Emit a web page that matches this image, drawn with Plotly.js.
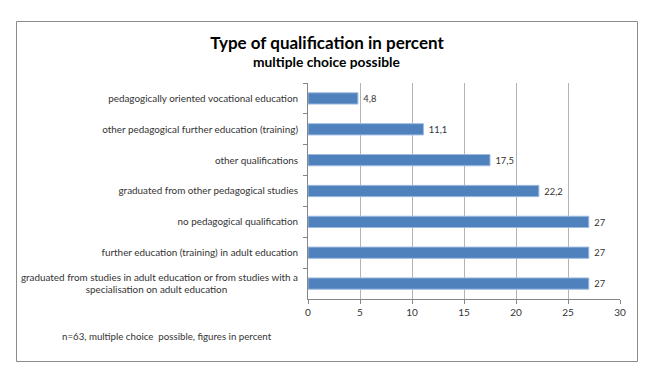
<!DOCTYPE html>
<html>
<head>
<meta charset="utf-8">
<script src="https://cdn.plot.ly/plotly-3.0.1.min.js"></script>
<style>
html,body{margin:0;padding:0;background:#fff;}
#chart{width:658px;height:373px;}
</style>
</head>
<body>
<div id="chart"></div>
<script>
var categories = [
  "pedagogically oriented vocational education",
  "other pedagogical further education (training)",
  "other qualifications",
  "graduated from other pedagogical studies",
  "no pedagogical qualification",
  "further education (training) in adult education",
  "graduated from studies in adult education or from studies with a<br>specialisation on adult education\u00a0\u00a0\u00a0\u00a0\u00a0\u00a0\u00a0\u00a0\u00a0\u00a0\u00a0\u00a0\u00a0\u00a0\u00a0\u00a0\u00a0\u00a0\u00a0\u00a0\u00a0\u00a0\u00a0\u00a0\u00a0\u00a0\u00a0\u00a0"
];
var values = [4.8, 11.1, 17.5, 22.2, 27, 27, 27];
var xTicks = [0, 5, 10, 15, 20, 25, 30];
var titleText = "Type of qualification in percent";
var subtitleText = "multiple choice possible";
var noteText = "n=63, multiple choice  possible, figures in percent";

var labels = values.map(function(v){ return "\u00a0" + String(v).replace(".", ","); });

var L = 308, R = 620, T = 83, B = 299, W = 658, H = 373;
function px(x){ return (x - L) / (R - L); }
function py(y){ return (B - y) / (B - T); }

var font = "Lato, 'Open Sans', sans-serif";

var trace = {
  type: "bar",
  orientation: "h",
  y: categories,
  x: values,
  text: labels,
  textposition: "outside",
  cliponaxis: false,
  textfont: {family: font, size: 10, color: "#333"},
  marker: {color: "#4F81BD", line: {color: "#9DBBE0", width: 1}},
  hoverinfo: "skip"
};

var layout = {
  width: W, height: H,
  margin: {l: L, r: W - R, t: T, b: H - B, pad: 0},
  paper_bgcolor: "#fff",
  plot_bgcolor: "#fff",
  showlegend: false,
  bargap: 0.635,
  font: {family: font, size: 10, color: "#333"},
  title: {
    text: "<b>" + titleText + "</b>",
    font: {family: font, size: 17, color: "#000"},
    x: 327 / W, xref: "container", xanchor: "center",
    y: 1 - 43 / H, yref: "container", yanchor: "middle"
  },
  xaxis: {
    range: [0, 30],
    tickvals: xTicks,
    ticktext: xTicks.map(String),
    showgrid: true, gridcolor: "#B3B3B3", gridwidth: 1,
    zeroline: false,
    showline: true, linecolor: "#868686", linewidth: 1,
    ticks: "outside", ticklen: 4, tickcolor: "#868686",
    tickfont: {family: font, size: 10, color: "#333"},
    fixedrange: true
  },
  yaxis: {
    type: "category",
    autorange: "reversed",
    showgrid: false, zeroline: false,
    showline: true, linecolor: "#868686", linewidth: 1,
    ticks: "outside", ticklen: 4, tickcolor: "#868686",
    tickson: "boundaries",
    tickfont: {family: font, size: 9.9, color: "#333"},
    ticklabelstandoff: 7,
    fixedrange: true
  },
  annotations: [
    {text: "<b>" + subtitleText + "</b>", xref: "paper", yref: "paper",
     x: px(326), y: py(62), xanchor: "center", yanchor: "middle",
     showarrow: false, font: {family: font, size: 13.8, color: "#000"}},
    {text: noteText, xref: "paper", yref: "paper",
     x: px(60), y: py(336), xanchor: "left", yanchor: "middle",
     showarrow: false, font: {family: font, size: 9.7, color: "#333"}}
  ],
  shapes: [
    {type: "rect", xref: "paper", yref: "paper",
     x0: px(16.5), x1: px(637.5), y0: py(21.5), y1: py(361.5),
     line: {color: "#8C8C8C", width: 1}, fillcolor: "rgba(0,0,0,0)", layer: "below"}
  ]
};

Plotly.newPlot("chart", [trace], layout, {displayModeBar: false, staticPlot: true});
</script>
</body>
</html>
